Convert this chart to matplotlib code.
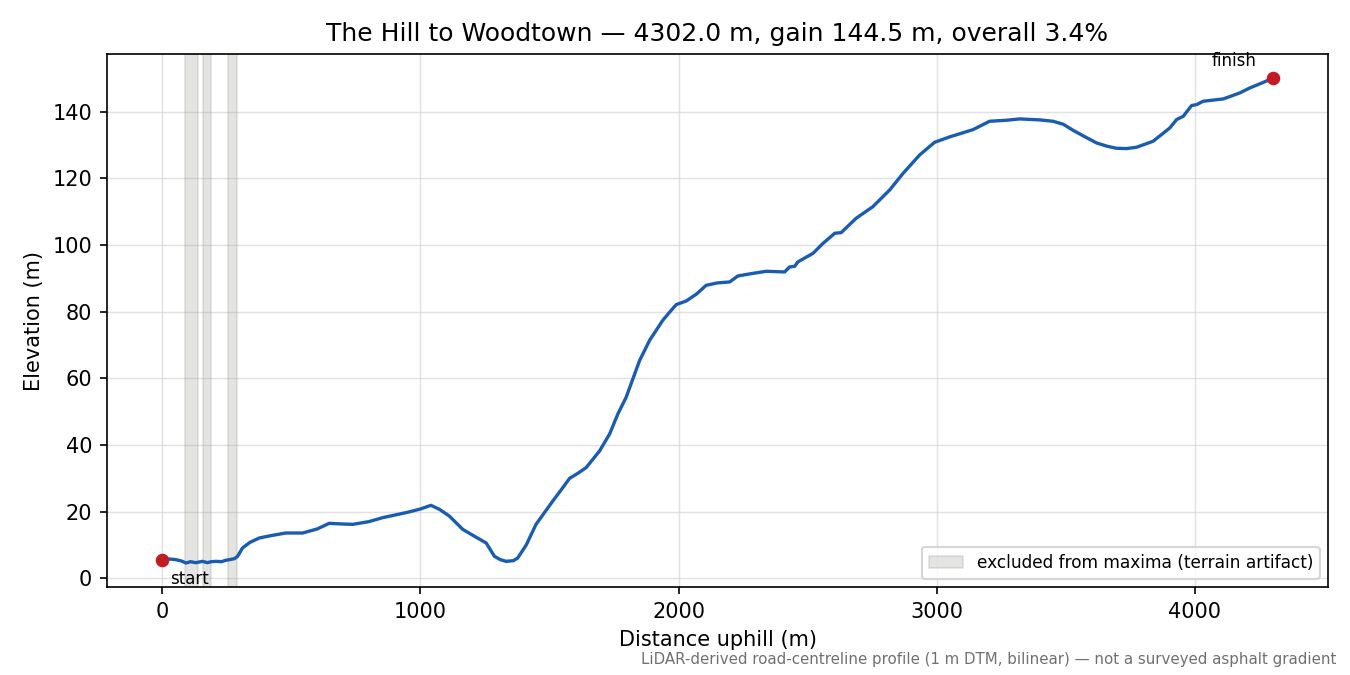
import numpy as np
import matplotlib
matplotlib.use("Agg")
import matplotlib.pyplot as plt

# profile (distance uphill m, elevation m)
distance = [0, 30, 53, 75, 92, 110, 130, 156, 175, 190, 208, 230, 245, 260, 280,
            292, 311, 340, 376, 420, 479, 544, 600, 647, 700, 738, 800, 854, 950,
            1000, 1041, 1074, 1112, 1164, 1210, 1255, 1287, 1310, 1332, 1360, 1377, 1410, 1448,
            1513, 1545, 1578, 1610, 1642, 1694, 1733, 1765, 1797, 1849, 1888, 1939, 1965,
            1991, 2030, 2070, 2107, 2150, 2198, 2230, 2290, 2340, 2411, 2430, 2450, 2462, 2521,
            2560, 2605, 2630, 2688, 2753, 2818, 2870, 2934, 2992, 3050, 3141, 3205,
            3270, 3322, 3400, 3450, 3490, 3528, 3575, 3619, 3660, 3696, 3735, 3774, 3838,
            3903, 3929, 3955, 3987, 4007, 4032, 4110, 4174, 4213, 4260, 4302]
elevation = [5.5, 5.8, 5.6, 5.2, 4.6, 5.0, 4.7, 5.1, 4.7, 5.0, 5.1, 5.0, 5.4, 5.6, 5.9,
             6.6, 9.1, 10.8, 12.1, 12.8, 13.6, 13.6, 14.8, 16.5, 16.3, 16.2, 17.0, 18.2, 19.8,
             20.8, 21.9, 20.7, 18.7, 14.7, 12.6, 10.6, 6.6, 5.6, 5.1, 5.3, 6.1, 10.0, 16.2,
             23.2, 26.5, 30.0, 31.5, 33.2, 38.2, 43.3, 49.3, 54.3, 65.3, 71.4, 77.4, 79.8,
             82.1, 83.2, 85.3, 87.9, 88.6, 88.9, 90.7, 91.5, 92.1, 91.9, 93.4, 93.6, 94.9, 97.5,
             100.5, 103.5, 103.7, 108.0, 111.5, 116.5, 121.5, 127.0, 130.8, 132.4, 134.6, 137.1,
             137.4, 137.8, 137.5, 137.1, 136.2, 134.4, 132.4, 130.6, 129.6, 129.0, 128.9, 129.3, 131.1,
             135.1, 137.6, 138.6, 141.8, 142.1, 143.1, 143.8, 145.6, 147.1, 148.6, 150.0]

# stretches excluded from maxima (start, end in m)
excluded = [(89, 140), (159, 190), (256, 291)]

title = "The Hill to Woodtown \u2014 4302.0 m, gain 144.5 m, overall 3.4%"
note = "LiDAR-derived road-centreline profile (1 m DTM, bilinear) \u2014 not a surveyed asphalt gradient"

fig, ax = plt.subplots(figsize=(9, 4.5), dpi=150)
fig.subplots_adjust(left=0.079, right=0.984, top=0.92, bottom=0.13)

for i, (a, b) in enumerate(excluded):
    ax.axvspan(a, b, color="#a09e98", alpha=0.28, lw=0.8,
               label="excluded from maxima (terrain artifact)" if i == 0 else None)

ax.plot(distance, elevation, color="#1a5cb0", lw=1.6)
ax.plot([distance[0], distance[-1]], [elevation[0], elevation[-1]], "o",
        color="#c41a24", ms=5.5, zorder=5)

ax.annotate("start", (distance[0], elevation[0]), xytext=(4, -5),
            textcoords="offset points", ha="left", va="top", fontsize=8)
ax.annotate("finish", (distance[-1], elevation[-1]), xytext=(-8, 4),
            textcoords="offset points", ha="right", va="bottom", fontsize=8)

ax.grid(True, color="#d0d0d0", alpha=0.6, lw=0.7)
ax.set_axisbelow(True)
ax.set_xlabel("Distance uphill (m)")
ax.set_ylabel("Elevation (m)")
ax.set_title(title, fontsize=12)
ax.legend(loc="lower right", fontsize=8.2)

fig.text(0.99, 0.012, note, ha="right", va="bottom", fontsize=7.2, color="#707070")

plt.savefig("out.png", dpi=150)
